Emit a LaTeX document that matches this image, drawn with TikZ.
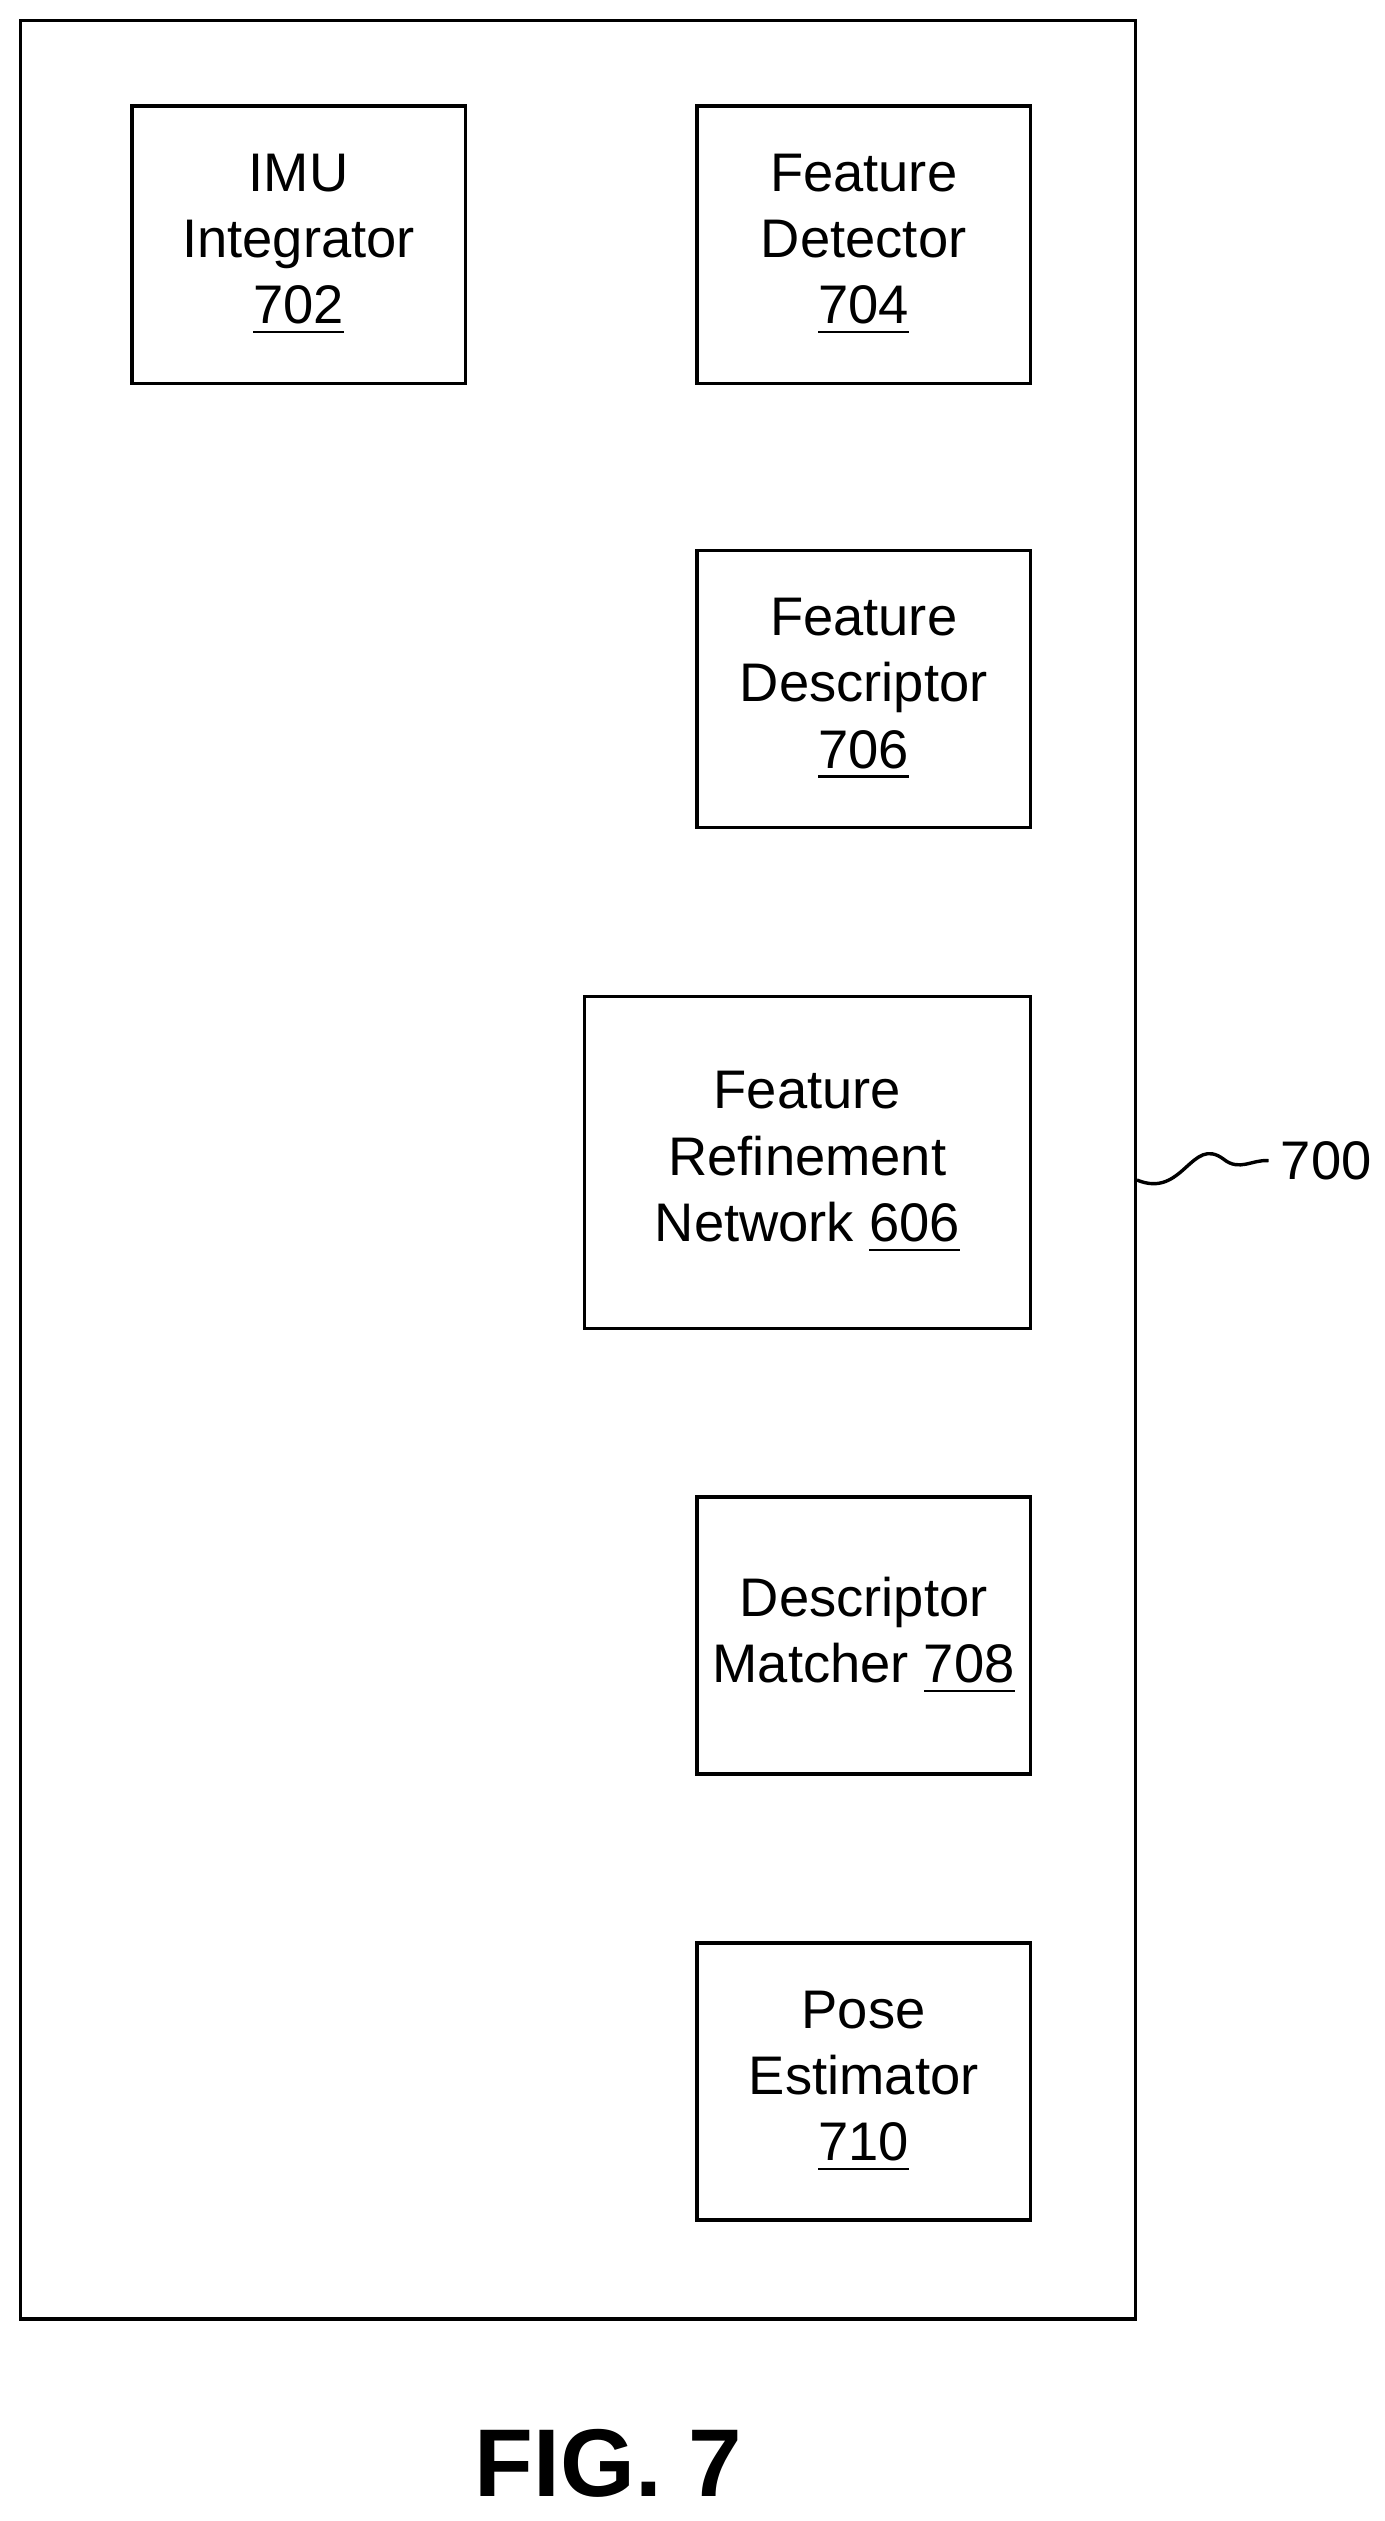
\documentclass[tikz,border=0pt]{standalone}
\usepackage{fontspec}
\setmainfont{Liberation Sans}
\begin{document}
\begin{tikzpicture}[x=0.01cm,y=-0.01cm]
    \tikzstyle{module}=[draw,semithick,align=center,font=\fontsize{9.6}{11.7}\selectfont,inner sep=0pt]
    \useasboundingbox (0,0) rectangle (860,1566);

    % outer system box
    \node[draw,semithick,minimum width=6.92cm,minimum height=14.27cm,inner sep=0pt] (sys) at (359,726.5) {};

    % modules
    \node[module,minimum width=2.07cm,minimum height=1.72cm] (imu) at (185.5,152) {IMU\\Integrator\\\underline{702}};
    \node[module,minimum width=2.07cm,minimum height=1.72cm] (det) at (536.5,152) {Feature\\Detector\\\underline{704}};
    \node[module,minimum width=2.07cm,minimum height=1.72cm] (desc) at (536.5,428) {Feature\\Descriptor\\\underline{706}};
    \node[module,minimum width=2.77cm,minimum height=2.06cm] (refine) at (501.5,722) {Feature\\Refinement\\Network \underline{606}};
    \node[module,minimum width=2.07cm,minimum height=1.72cm] (match) at (536.5,1016) {Descriptor\\Matcher \underline{708}};
    \node[module,minimum width=2.07cm,minimum height=1.72cm] (pose) at (536.5,1293) {Pose\\Estimator\\\underline{710}};

    % reference label
    \node[anchor=west,font=\fontsize{9.6}{11.7}\selectfont,inner sep=0pt] (lbl) at (795,721) {700};
    \coordinate (tail) at (788,721);
    \draw[semithick] (sys.east |- 0,733) .. controls (735,745) and (740,705) .. (760,720)
        .. controls (770,728) and (778,720) .. (tail);

    % figure caption
    \node[font=\fontsize{17}{20}\selectfont\bfseries] (fig) at (378,1530) {FIG. 7};
\end{tikzpicture}
\end{document}
